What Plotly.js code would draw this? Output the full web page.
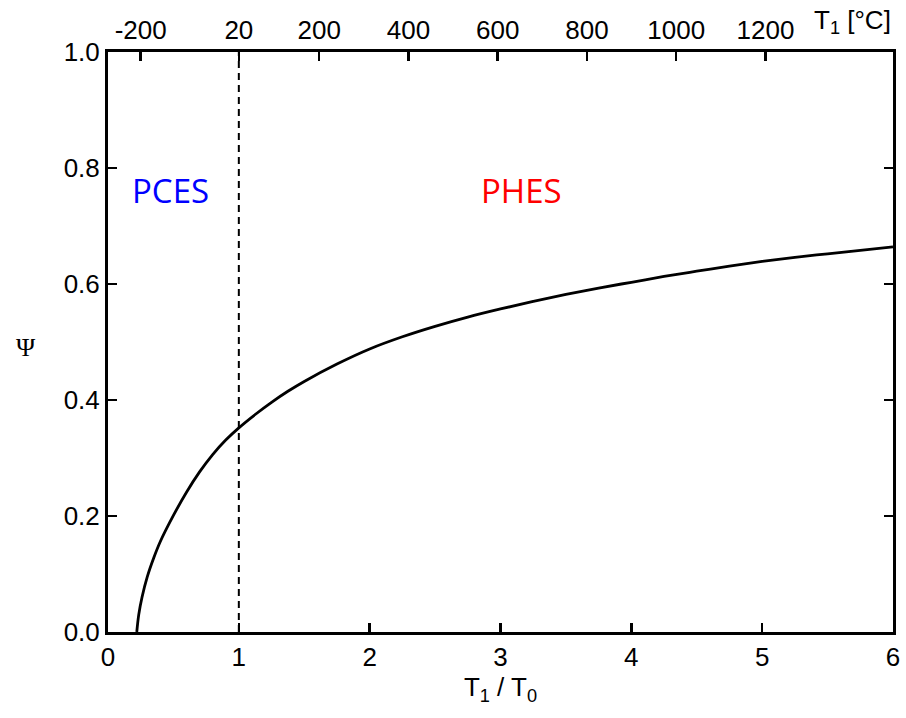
<!DOCTYPE html>
<html>
<head>
<meta charset="utf-8">
<script src="https://cdn.plot.ly/plotly-3.0.1.min.js"></script>
<style>html,body{margin:0;padding:0;background:#fff;}#chart{width:906px;height:718px;}</style>
</head>
<body>
<div id="chart"></div>
<script>
// Ratio T1/T0 and efficiency Psi
const ratio = [0.22, 0.235, 0.26, 0.30, 0.35, 0.40, 0.50, 0.60, 0.70, 0.80, 0.90, 1.00, 1.125, 1.25, 1.375, 1.50, 1.75, 2.00, 2.25, 2.50, 2.75, 3.00, 3.25, 3.50, 3.75, 4.00, 4.25, 4.50, 4.75, 5.00, 5.25, 5.50, 5.75, 6.00];
const psi   = [0.000, 0.030, 0.060, 0.095, 0.128, 0.156, 0.201, 0.241, 0.276, 0.306, 0.331, 0.352, 0.375, 0.396, 0.415, 0.432, 0.462, 0.488, 0.509, 0.527, 0.543, 0.557, 0.570, 0.582, 0.593, 0.603, 0.613, 0.622, 0.631, 0.639, 0.646, 0.652, 0.658, 0.664];
// Top axis temperature labels (°C), T0 = 20 °C
const tempC = [-200, 20, 200, 400, 600, 800, 1000, 1200];
const T0C = 20;
const topPos = tempC.map(t => (t + 273.15) / (T0C + 273.15));
const dashX = [1, 1];
const dashY = [0, 1];
const yTicks = [0, 0.2, 0.4, 0.6, 0.8, 1.0];
const xTicks = [0, 1, 2, 3, 4, 5, 6];

const sans = 'Liberation Sans, Arial, sans-serif';
const xTickFont = {family: sans, size: 26, color: '#000'};
const yTickFont = {family: sans, size: 26, color: '#000'};

const traces = [
  {x: ratio, y: psi, type: 'scatter', mode: 'lines', line: {color: '#000', width: 2.8, shape: 'spline', smoothing: 1}, hoverinfo: 'skip', showlegend: false},
  {x: dashX, y: dashY, type: 'scatter', mode: 'lines', line: {color: '#000', width: 2, dash: '7px,5px'}, hoverinfo: 'skip', showlegend: false},
  {x: topPos, y: topPos.map(() => null), xaxis: 'x2', type: 'scatter', mode: 'markers', showlegend: false, hoverinfo: 'skip'}
];

const layout = {
  width: 906, height: 718,
  margin: {l: 108, r: 13, t: 52, b: 86},
  paper_bgcolor: '#fff', plot_bgcolor: '#fff',
  showlegend: false,
  xaxis: {
    range: [0, 6], tickvals: xTicks, ticktext: xTicks.map(String),
    ticks: 'inside', ticklen: 9, tickwidth: 2.5, tickcolor: '#000',
    showline: true, linecolor: '#000', linewidth: 3, mirror: false,
    showgrid: false, zeroline: false, tickfont: xTickFont,
    title: {text: 'T<sub>1</sub> / T<sub>0</sub>', font: {family: sans, size: 26, color: '#000'}, standoff: 4}
  },
  xaxis2: {
    overlaying: 'x', side: 'top', range: [0, 6],
    tickvals: topPos, ticktext: tempC.map(String),
    ticks: 'inside', ticklen: 9, tickwidth: 2.5, tickcolor: '#000',
    showline: true, linecolor: '#000', linewidth: 3,
    showgrid: false, zeroline: false, tickfont: xTickFont
  },
  yaxis: {
    range: [0, 1], tickvals: yTicks, ticktext: yTicks.map(v => v.toFixed(1)),
    ticks: 'inside', ticklen: 9, tickwidth: 2.5, tickcolor: '#000',
    showline: true, linecolor: '#000', linewidth: 3, mirror: 'ticks',
    showgrid: false, zeroline: false, tickfont: yTickFont
  },
  annotations: [
    {text: 'Ψ', xref: 'paper', yref: 'paper', x: 0, y: 0.49, xanchor: 'center', yanchor: 'middle', xshift: -82, showarrow: false, font: {family: 'Liberation Serif, Times New Roman, serif', size: 26, color: '#000'}},
    {text: 'T<sub>1</sub> [°C]', xref: 'paper', yref: 'paper', x: 1.0, y: 1.0, xanchor: 'right', yanchor: 'bottom', yshift: 12, showarrow: false, font: {family: sans, size: 26, color: '#000'}},
    {text: 'PCES', x: 0.48, y: 0.762, xref: 'x', yref: 'y', showarrow: false, font: {family: 'Open Sans, Noto Sans, sans-serif', size: 33, color: '#0000ff'}},
    {text: 'PHES', x: 3.16, y: 0.762, xref: 'x', yref: 'y', showarrow: false, font: {family: 'Open Sans, Noto Sans, sans-serif', size: 33, color: '#ff0000'}}
  ]
};

Plotly.newPlot('chart', traces, layout, {displayModeBar: false, staticPlot: true});
</script>
</body>
</html>
